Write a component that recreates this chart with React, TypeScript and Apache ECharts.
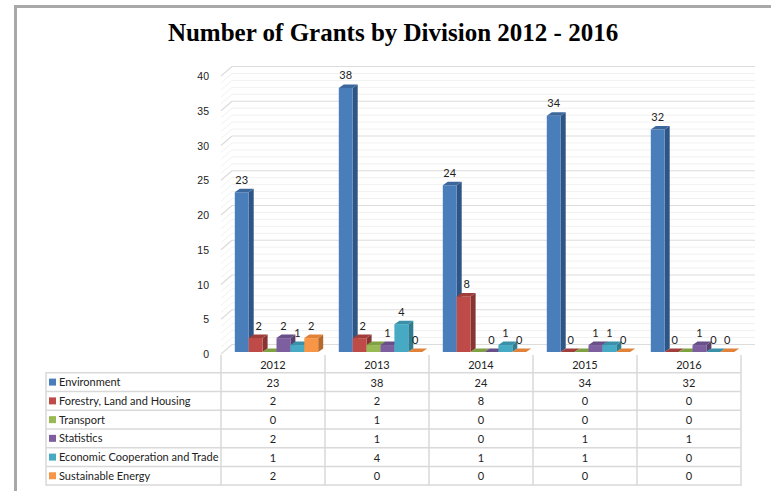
import React, { useEffect, useRef } from "react";
import * as echarts from "echarts";

const titleText = "Number of Grants by Division 2012 - 2016";
const years = ["2012", "2013", "2014", "2015", "2016"];
const divisions = [
  "Environment",
  "Forestry, Land and Housing",
  "Transport",
  "Statistics",
  "Economic Cooperation and Trade",
  "Sustainable Energy",
];
const environment = [23, 38, 24, 34, 32];
const forestry = [2, 2, 8, 0, 0];
const transport = [0, 1, 0, 0, 0];
const statistics = [2, 1, 0, 1, 1];
const economic = [1, 4, 1, 1, 0];
const sustainable = [2, 0, 0, 0, 0];
const seriesValues = [environment, forestry, transport, statistics, economic, sustainable];
const seriesLabelled = [true, true, false, true, true, true];
const frontColors = ["#4a7ebb", "#be4b48", "#98b954", "#7d5fa0", "#46aac5", "#f79646"];
const sideColors = ["#2f5486", "#873432", "#6c843a", "#574270", "#2f7c90", "#b56a2c"];
const topColors = ["#3c679d", "#a03e3c", "#80a044", "#684f88", "#3a90a8", "#e0823a"];
const majorTicks = [0, 5, 10, 15, 20, 25, 30, 35, 40];
const minorTicks = [
  1, 2, 3, 4, 6, 7, 8, 9, 11, 12, 13, 14, 16, 17, 18, 19, 21, 22, 23, 24, 26, 27, 28, 29, 31, 32,
  33, 34, 36, 37, 38, 39,
];

const LABEL_FONT = "Lato, Carlito, sans-serif";
const BAR_W = 13.9;
const DX = 5;
const DY = 3.5;

function wallItem(color: string, width: number) {
  return (_p: any, api: any) => {
    const y = api.coord([0, api.value(1)])[1];
    return {
      type: "group",
      silent: true,
      children: [
        {
          type: "line",
          shape: { x1: 232, y1: y - 9.5, x2: 755, y2: y - 9.5 },
          style: { stroke: color, lineWidth: width },
        },
        {
          type: "line",
          shape: { x1: 221, y1: y, x2: 232, y2: y - 9.5 },
          style: { stroke: color, lineWidth: width },
        },
      ],
    };
  };
}

function barItem(i: number) {
  return (_p: any, api: any) => {
    const v = api.value(1);
    const [cx, y0] = api.coord([api.value(0), 0]);
    const top = api.coord([api.value(0), v])[1] - 2;
    const base = y0 - 2;
    const x1 = cx + 3.5 - (BAR_W * 6) / 2 + i * BAR_W;
    const x2 = x1 + BAR_W;
    const children: any[] = [];
    if (v > 0) {
      children.push({
        type: "polygon",
        shape: { points: [[x2, top], [x2 + DX, top - DY], [x2 + DX, base - DY], [x2, base]] },
        style: { fill: sideColors[i] },
      });
      children.push({
        type: "rect",
        shape: { x: x1, y: top, width: BAR_W, height: base - top },
        style: { fill: frontColors[i] },
      });
    }
    children.push({
      type: "polygon",
      shape: { points: [[x1, top], [x1 + DX, top - DY], [x2 + DX, top - DY], [x2, top]] },
      style: { fill: topColors[i] },
    });
    if (seriesLabelled[i]) {
      children.push({
        type: "text",
        style: {
          text: String(v),
          x: (x1 + x2) / 2 + (i === 1 ? 3 : 0),
          y: top - 13,
          textAlign: "center",
          textVerticalAlign: "middle",
          font: `11px ${LABEL_FONT}`,
          fill: "#222222",
        },
      });
    }
    return { type: "group", silent: true, children };
  };
}

function tableGraphics() {
  const colX = [221, 325, 429, 533, 637, 741];
  const rowY = [372.7, 391.5, 410.3, 429, 447.7, 466.5, 485];
  const line = "#d9d9d9";
  const els: any[] = [];
  rowY.forEach((y) =>
    els.push({ type: "line", shape: { x1: 46, y1: y, x2: 741, y2: y }, style: { stroke: line, lineWidth: 1.5 } })
  );
  colX.forEach((x) =>
    els.push({ type: "line", shape: { x1: x, y1: 355, x2: x, y2: 485.7 }, style: { stroke: line, lineWidth: 1.5 } })
  );
  els.push({ type: "line", shape: { x1: 46, y1: 372, x2: 46, y2: 485.7 }, style: { stroke: line, lineWidth: 1.5 } });
  divisions.forEach((name, r) => {
    const cy = (rowY[r] + rowY[r + 1]) / 2;
    els.push({ type: "rect", shape: { x: 49, y: cy - 3.5, width: 7, height: 7 }, style: { fill: frontColors[r] } });
    els.push({
      type: "text",
      style: { text: name, x: 59, y: cy - 0.5, textVerticalAlign: "middle", font: `11px ${LABEL_FONT}`, fill: "#222222" },
    });
    seriesValues[r].forEach((v, c) => {
      els.push({
        type: "text",
        style: {
          text: String(v),
          x: (colX[c] + colX[c + 1]) / 2,
          y: cy,
          textAlign: "center",
          textVerticalAlign: "middle",
          font: `11px ${LABEL_FONT}`,
          fill: "#222222",
        },
      });
    });
  });
  return els;
}

export default function App() {
  const ref = useRef<HTMLDivElement>(null);
  useEffect(() => {
    const chart = echarts.init(ref.current!, undefined, { renderer: "svg" });
    chart.setOption({
      animation: false,
      backgroundColor: "#ffffff",
      title: {
        text: titleText,
        left: 388,
        top: 15,
        textAlign: "center",
        textStyle: { fontFamily: "Liberation Serif", fontWeight: "bold", fontSize: 25, color: "#000000" },
      },
      grid: { left: 221, width: 520, top: 76, height: 278 },
      xAxis: {
        type: "category",
        data: years,
        axisLine: { show: false },
        axisTick: { show: false },
        axisLabel: { margin: 5, fontFamily: LABEL_FONT, fontSize: 11, color: "#222222" },
      },
      yAxis: {
        type: "value",
        min: 0,
        max: 40,
        interval: 5,
        splitLine: { show: false },
        axisLine: { show: false },
        axisTick: { show: false },
        axisLabel: { margin: 12, fontFamily: "Liberation Sans", fontSize: 10.5, color: "#222222" },
      },
      series: [
        {
          type: "custom",
          clip: false,
          silent: true,
          renderItem: wallItem("#f1f1f1", 1),
          data: minorTicks.map((v) => [0, v]),
        },
        {
          type: "custom",
          clip: false,
          silent: true,
          renderItem: wallItem("#dcdcdc", 1.2),
          data: majorTicks.map((v) => [0, v]),
        },
        ...divisions.map((name, i) => ({
          type: "custom",
          name,
          clip: false,
          silent: true,
          renderItem: barItem(i),
          data: seriesValues[i].map((v, c) => [c, v]),
        })),
      ],
      graphic: [
        { type: "rect", silent: true, shape: { x: 14, y: 5, width: 757, height: 3 }, style: { fill: "#a8a8a8" } },
        { type: "rect", silent: true, shape: { x: 14, y: 5, width: 3, height: 486 }, style: { fill: "#a8a8a8" } },
        { type: "group", silent: true, children: tableGraphics() },
      ],
    });
    return () => chart.dispose();
  }, []);
  return <div ref={ref} style={{ position: "absolute", left: 0, top: 0, width: 771, height: 491 }} />;
}
